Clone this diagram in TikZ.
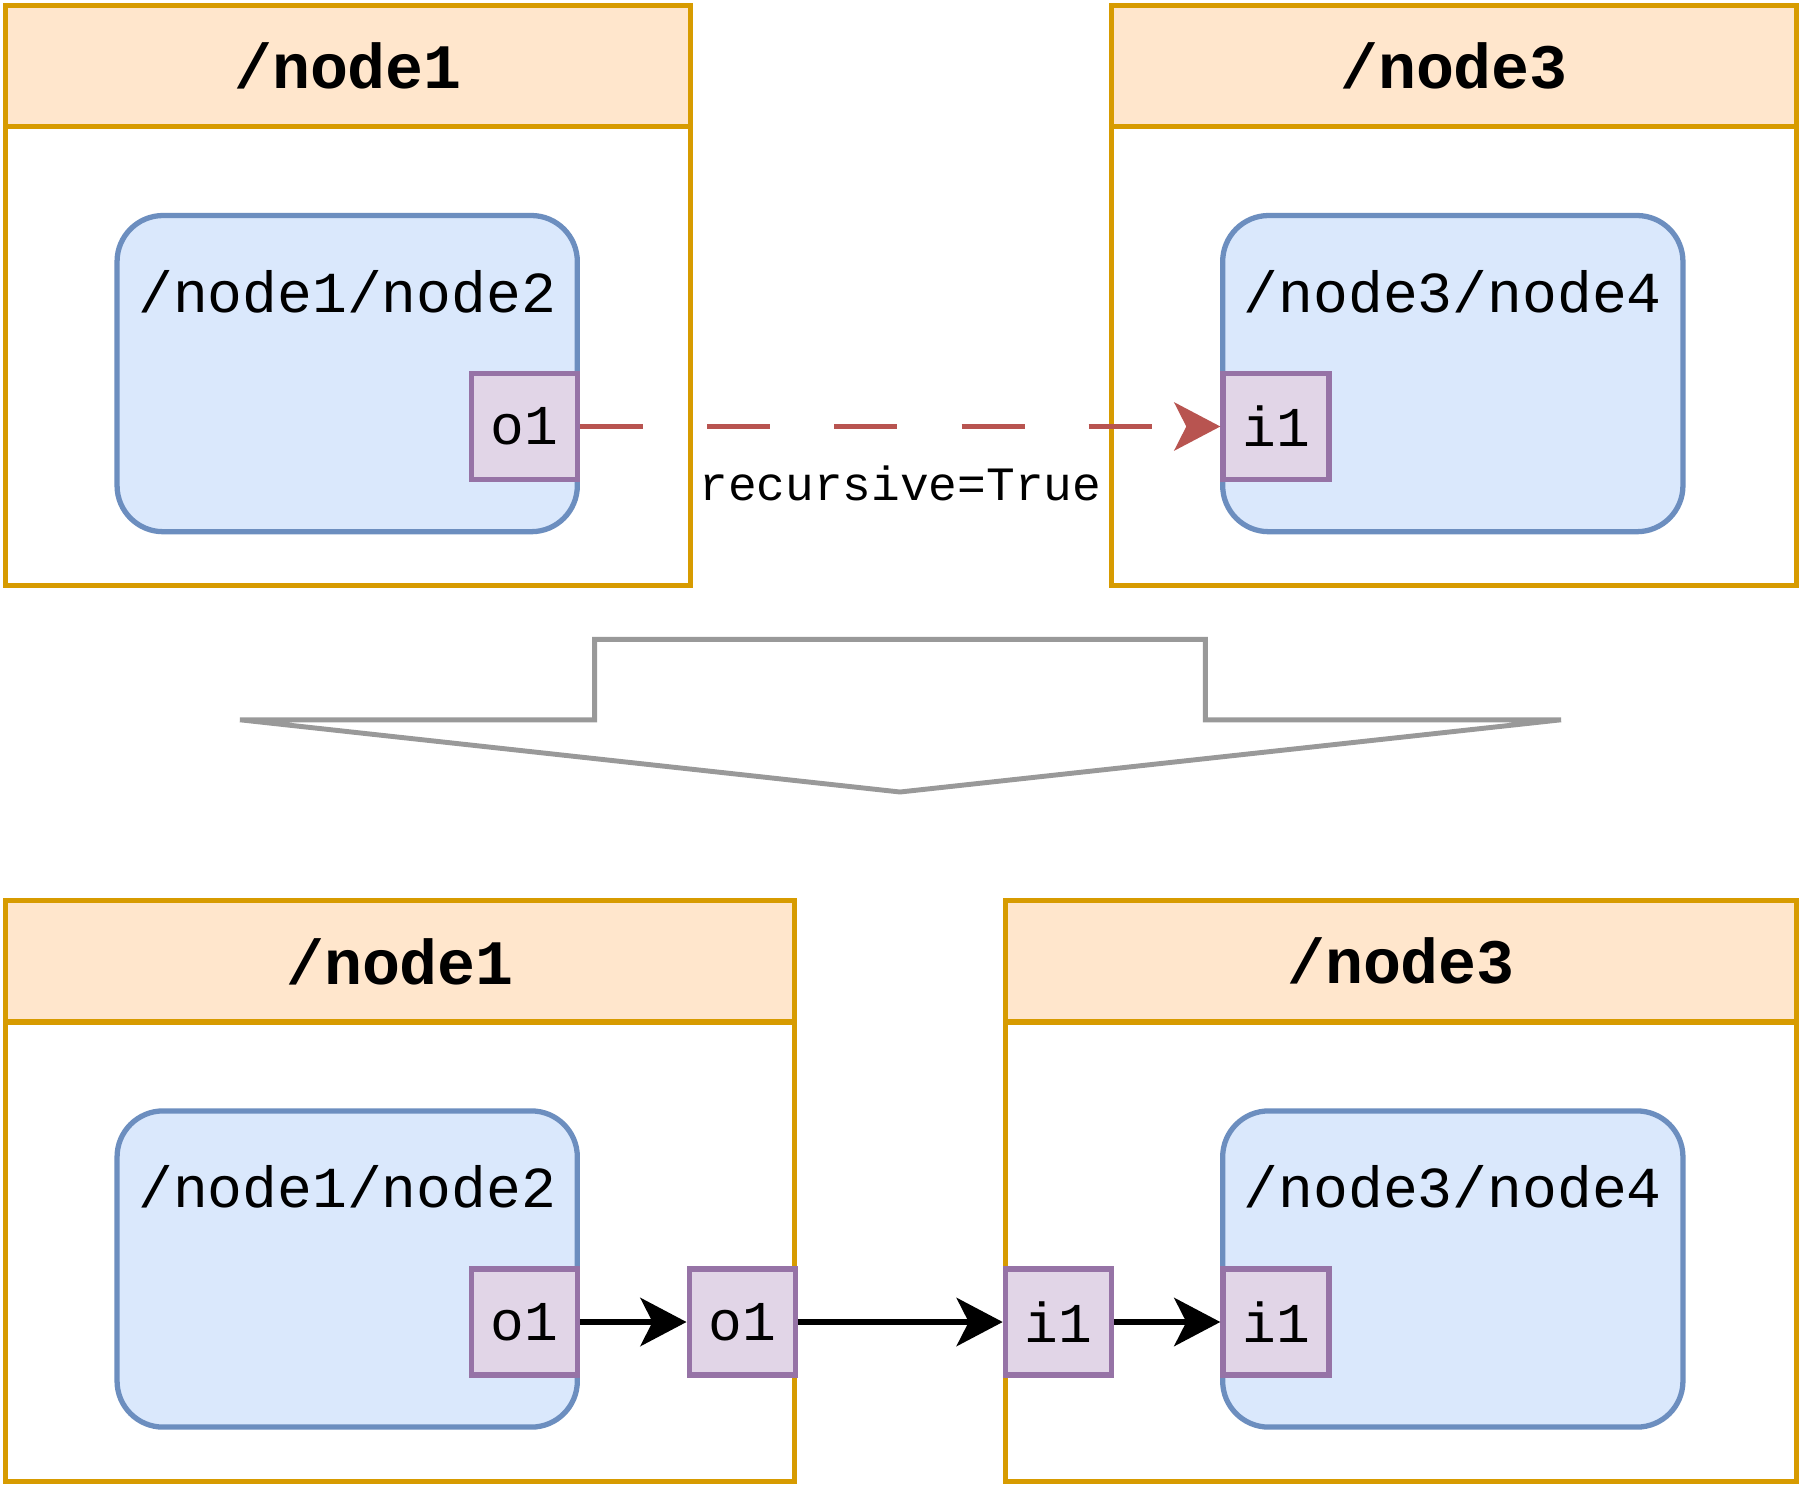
\documentclass[tikz,border=0pt]{standalone}
\usepackage{fontspec}
\setmonofont{Liberation Mono}
\usepackage{xcolor}
\usepackage{tikz}
\usetikzlibrary{arrows.meta}
\usetikzlibrary{positioning}
\definecolor{laneFill}{HTML}{FFE6CC}
\definecolor{laneDraw}{HTML}{D79B00}
\definecolor{groupFill}{HTML}{DAE8FC}
\definecolor{groupDraw}{HTML}{6C8EBF}
\definecolor{portFill}{HTML}{E1D5E7}
\definecolor{portDraw}{HTML}{9673A6}
\definecolor{recDraw}{HTML}{B85450}
\definecolor{bigDraw}{HTML}{999999}
\tikzset{
  mylane/.style={
    draw=laneDraw,
    shape=rectangle,
    line width=1.5pt,
    fill=white,
    minimum height=5.80cm,
    inner sep=0pt,
  },
  myheader/.style={
    draw=laneDraw,
    fill=laneFill,
    shape=rectangle,
    line width=1.5pt,
    anchor=north,
    minimum height=1.21cm,
    inner sep=0pt,
    font=\ttfamily\bfseries\fontsize{18}{20}\selectfont
  },
  mygroup/.style={
    draw=groupDraw,
    fill=groupFill,
    shape=rectangle,
    line width=1.5pt,
    rounded corners=0.46cm,
    minimum width=4.60cm,
    minimum height=3.16cm,
    inner sep=0pt,
  },
  mytitle/.style={
    inner sep=0pt,
    font=\ttfamily\fontsize{16.5}{18}\selectfont
  },
  myport/.style={
    draw=portDraw,
    fill=portFill,
    shape=rectangle,
    line width=1.5pt,
    minimum size=1.06cm,
    inner sep=0pt,
    font=\ttfamily\fontsize{16}{18}\selectfont
  },
  myflow/.style={
    draw=black,
    line width=1.9pt,
    -{Stealth[length=0.46cm,width=0.48cm,inset=0.12cm]},
  },
  myrecursive/.style={
    draw=recDraw,
    line width=1.6pt,
    dash pattern=on 0.63cm off 0.64cm,
    -{Stealth[length=0.46cm,width=0.48cm,inset=0.12cm,fill=recDraw]},
  },
  mylabel/.style={
    inner sep=0pt,
    font=\ttfamily\fontsize{13.6}{15}\selectfont
  },
  bigarrow/.style={
    draw=bigDraw,
    fill=white,
    line width=1.4pt,
  },
}
\begin{document}
\begin{tikzpicture}[x=0.01cm, y=-0.01cm]
    \useasboundingbox (0,0) rectangle (1800,1485);

    % before
    \node[mylane, minimum width=6.85cm] (n1) at ( 348, 295.6) {};
    \node[myheader, minimum width=6.85cm] (n1h) at (n1.north) {/node1};
    \node[mylane, minimum width=6.85cm] (n3) at (1454, 295.6) {};
    \node[myheader, minimum width=6.85cm] (n3h) at (n3.north) {/node3};

    \node[mygroup] (n2) at ( 347.2, 373.6) {};
    \node[mytitle] (n2t) at ( 347.2, 291.6) {/node1/node2};
    \node[mygroup] (n4) at (1452.8, 373.6) {};
    \node[mytitle] (n4t) at (1452.8, 291.6) {/node3/node4};

    \node[myport] (n2o1) at ( 524.6, 426.5) {o1};
    \node[myport] (n4i1) at (1276.0, 426.5) {i1};

    \draw[myrecursive] (n2o1) -- node[mylabel, below=0.37cm] (rec) {recursive=True} (n4i1);

    % big arrow
    \draw[bigarrow] (594.6,639.4) -- (1205.4,639.4) -- (1205.4,719.8) -- (1561,719.8)
      -- (900,792) -- (240,719.8) -- (594.6,719.8) -- cycle;

    % after
    \node[mylane, minimum width=7.89cm] (m1) at ( 400, 1191) {};
    \node[myheader, minimum width=7.89cm] (m1h) at (m1.north) {/node1};
    \node[mylane, minimum width=7.91cm] (m3) at (1401, 1191) {};
    \node[myheader, minimum width=7.91cm] (m3h) at (m3.north) {/node3};

    \node[mygroup] (m2) at ( 347.2, 1269) {};
    \node[mytitle] (m2t) at ( 347.2, 1187) {/node1/node2};
    \node[mygroup] (m4) at (1452.8, 1269) {};
    \node[mytitle] (m4t) at (1452.8, 1187) {/node3/node4};

    \node[myport] (m2o1) at ( 524.6, 1322) {o1};
    \node[myport] (m1o1) at ( 742.2, 1322) {o1};
    \node[myport] (m3i1) at (1058.4, 1322) {i1};
    \node[myport] (m4i1) at (1276.0, 1322) {i1};

    \draw[myflow] (m2o1) -- (m1o1);
    \draw[myflow] (m1o1) -- (m3i1);
    \draw[myflow] (m3i1) -- (m4i1);
\end{tikzpicture}
\end{document}
